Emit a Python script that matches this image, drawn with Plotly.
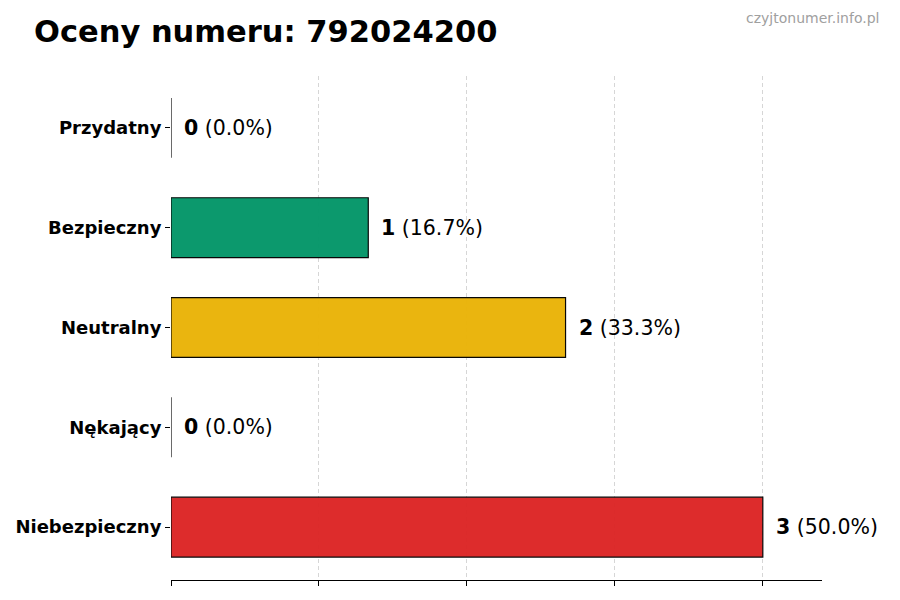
import plotly.graph_objects as go

# Ratings for the number, bottom to top as drawn
categories = ["Niebezpieczny", "Nękający", "Neutralny", "Bezpieczny", "Przydatny"]
counts = [3, 0, 2, 1, 0]
colors = ["#DC2626", "#F97316", "#EAB308", "#059669", "#3B82F6"]
phone_number = "792024200"
site = "czyjtonumer.info.pl"

total = sum(counts)
percents = [100.0 * c / total if total else 0.0 for c in counts]
x_max = max(counts) * 1.1

fig = go.Figure()

fig.add_trace(go.Bar(
    x=counts,
    y=categories,
    orientation="h",
    width=0.6,
    marker=dict(color=colors, opacity=0.97, line=dict(color="#000000", width=1.2)),
    hoverinfo="skip",
))

# value labels next to each bar
for cat, c, p in zip(categories, counts, percents):
    fig.add_annotation(
        x=c, y=cat, xref="x", yref="y",
        text=f"<b>{c}</b> ({p:.1f}%)",
        showarrow=False, xanchor="left", yanchor="middle",
        xshift=11,
        font=dict(family="DejaVu Sans", size=20.5, color="#000000"),
    )

fig.add_annotation(
    x=1.09, y=1.115, xref="paper", yref="paper",
    text=site, showarrow=False, xanchor="right", yanchor="middle",
    font=dict(family="DejaVu Sans", size=14, color="#A0A0A0"),
)

# page body adds an 8px offset, margins compensate for it
fig.update_layout(
    width=900, height=600,
    margin=dict(l=163, r=86, t=68, b=28),
    paper_bgcolor="white", plot_bgcolor="white",
    showlegend=False,
    title=dict(
        text=f"<b>Oceny numeru: {phone_number}</b>",
        x=26 / 900, xref="container", xanchor="left",
        y=1 - 23 / 600, yref="container", yanchor="middle",
        font=dict(family="DejaVu Sans", size=30.5, color="#000000"),
    ),
)

fig.update_xaxes(
    range=[0, x_max],
    tick0=0, dtick=0.75,
    showticklabels=False,
    ticks="outside", ticklen=5, tickcolor="#000000",
    showgrid=True, gridcolor="#D6D6D6", griddash="4px,3px", gridwidth=1,
    showline=True, linecolor="#000000", linewidth=1.2,
    zeroline=False, automargin=False,
)

fig.update_yaxes(
    range=[-0.53, 4.52],
    ticks="outside", ticklen=5, tickcolor="#000000",
    showgrid=False, showline=False, zeroline=False, automargin=False,
    tickfont=dict(family="DejaVu Sans", size=18, color="#000000", weight="bold"),
)

fig.write_html("out.html")
